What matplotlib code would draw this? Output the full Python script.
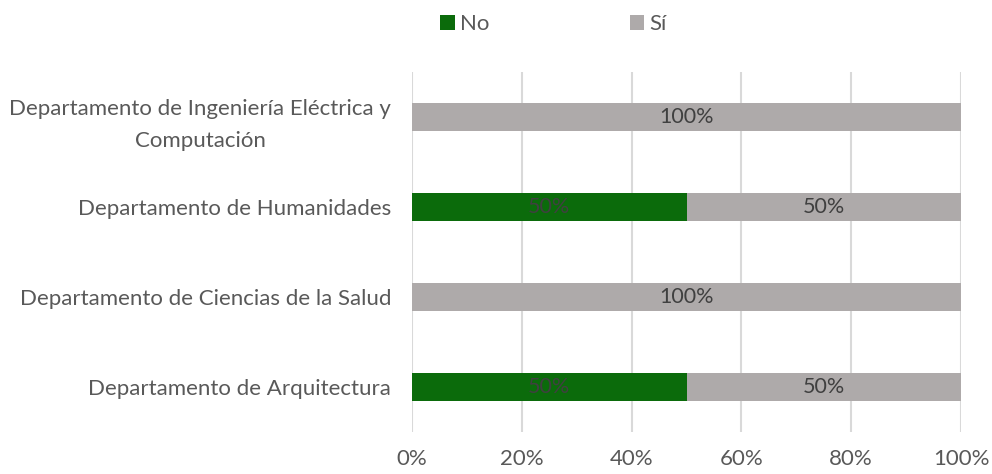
import matplotlib.pyplot as plt
import numpy as np

plt.rcParams['font.family'] = ['Lato', 'DejaVu Sans']

departamentos = ['Departamento de Arquitectura',
                 'Departamento de Ciencias de la Salud',
                 'Departamento de Humanidades',
                 'Departamento de Ingeniería Eléctrica y\nComputación']
no_vals = [0.5, 0.0, 0.5, 0.0]
si_vals = [0.5, 1.0, 0.5, 1.0]

verde = '#0B6B0B'
gris = '#AEAAAA'
texto = '#595959'

fig = plt.figure(figsize=(9.92, 4.74), dpi=100)
ax = fig.add_axes([0.4153, 0.0886, 0.5535, 0.7595])

y = np.arange(len(departamentos))
b1 = ax.barh(y, no_vals, height=0.31, color=verde, label='No')
b2 = ax.barh(y, si_vals, left=no_vals, height=0.31, color=gris, label='Sí')

for bars in (b1, b2):
    for r in bars:
        w = r.get_width()
        if w > 0:
            ax.text(r.get_x() + w / 2, r.get_y() + r.get_height() / 2,
                    f'{w:.0%}', ha='center', va='center', fontsize=15.5, color='#404040')

ax.set_xlim(0, 1)
ax.set_ylim(-0.5, 3.5)
ax.set_xticks(np.arange(0, 1.01, 0.2))
ax.set_xticklabels([f'{int(v*100)}%' for v in np.arange(0, 1.01, 0.2)])
ax.set_yticks(y)
ax.set_yticklabels(departamentos, multialignment='center', linespacing=1.75)
ax.grid(axis='x', color='#D9D9D9', linewidth=1.5)
ax.set_axisbelow(True)
for s in ax.spines.values():
    s.set_visible(False)
ax.tick_params(axis='both', length=0, labelsize=16, colors=texto)
ax.tick_params(axis='x', pad=12)
ax.tick_params(axis='y', pad=15)

fig.legend(loc='upper center', bbox_to_anchor=(0.558, 1.012), ncol=2, frameon=False,
           fontsize=16, labelcolor=texto, handlelength=0.65, handleheight=0.65,
           handletextpad=0.25, columnspacing=6.3)

fig.savefig('out.png', dpi=100)
